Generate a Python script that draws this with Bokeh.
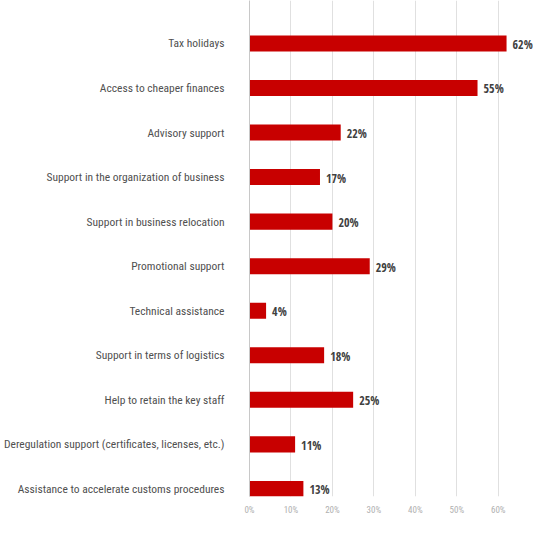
from bokeh.plotting import figure
from bokeh.models import Range1d, FixedTicker, ColumnDataSource
from bokeh.core.properties import value
from bokeh.embed import file_html
from bokeh.resources import INLINE

categories = [
    "Tax holidays",
    "Access to cheaper finances",
    "Advisory support",
    "Support in the organization of business",
    "Support in business relocation",
    "Promotional support",
    "Technical assistance",
    "Support in terms of logistics",
    "Help to retain the key staff",
    "Deregulation support (certificates, licenses, etc.)",
    "Assistance to accelerate customs procedures",
]
values = [62, 55, 22, 17, 20, 29, 4, 18, 25, 11, 13]
x_ticks = [0, 10, 20, 30, 40, 50, 60]

n = len(categories)
ypos = [n - 1 - i for i in range(n)]
src = ColumnDataSource(dict(cat=categories, val=values, y=ypos,
                            lab=[f"{v}%" for v in values]))

p = figure(width=533, height=517, output_backend="svg", toolbar_location=None,
           x_range=Range1d(0, 68.5), y_range=Range1d(-0.17, n - 1 + 0.964),
           min_border_left=247, min_border_right=0, min_border_top=0,
           min_border_bottom=12)
p.outline_line_color = None
p.background_fill_color = "white"

p.hbar(y="y", right="val", left=0, height=0.36, source=src,
       fill_color="#c80000", line_color=None)
p.text(x="val", y="y", text="lab", source=src, x_offset=6, y_offset=1,
       text_baseline="middle", text_align="left",
       text_font=value("Open Sans Condensed"), text_font_style="bold",
       text_font_size="12px", text_color="#404040")

# y axis with category labels
p.yaxis.ticker = FixedTicker(ticks=ypos)
p.yaxis.major_label_overrides = {y: c for y, c in zip(ypos, categories)}
p.yaxis.major_label_text_font = "Roboto Condensed"
p.yaxis.major_label_text_font_size = "11.5px"
p.yaxis.major_label_text_color = "#505050"
p.yaxis.major_label_standoff = 19
p.yaxis.major_tick_line_color = None
p.yaxis.minor_tick_line_color = None
p.yaxis.axis_line_color = "#c8c8c8"
p.ygrid.grid_line_color = None

p.xaxis.ticker = FixedTicker(ticks=x_ticks)
p.xaxis.major_label_overrides = {t: f"{t}%" for t in x_ticks}
p.xaxis.major_label_text_font = "Roboto Condensed"
p.xaxis.major_label_text_font_size = "9px"
p.xaxis.major_label_text_color = "#b0b0b0"
p.xaxis.major_label_standoff = 2
p.xaxis.axis_line_color = None
p.xaxis.major_tick_line_color = None
p.xaxis.minor_tick_line_color = None
p.xgrid.grid_line_color = "#e0e0e0"

open("out.html", "w").write(file_html(p, INLINE))
